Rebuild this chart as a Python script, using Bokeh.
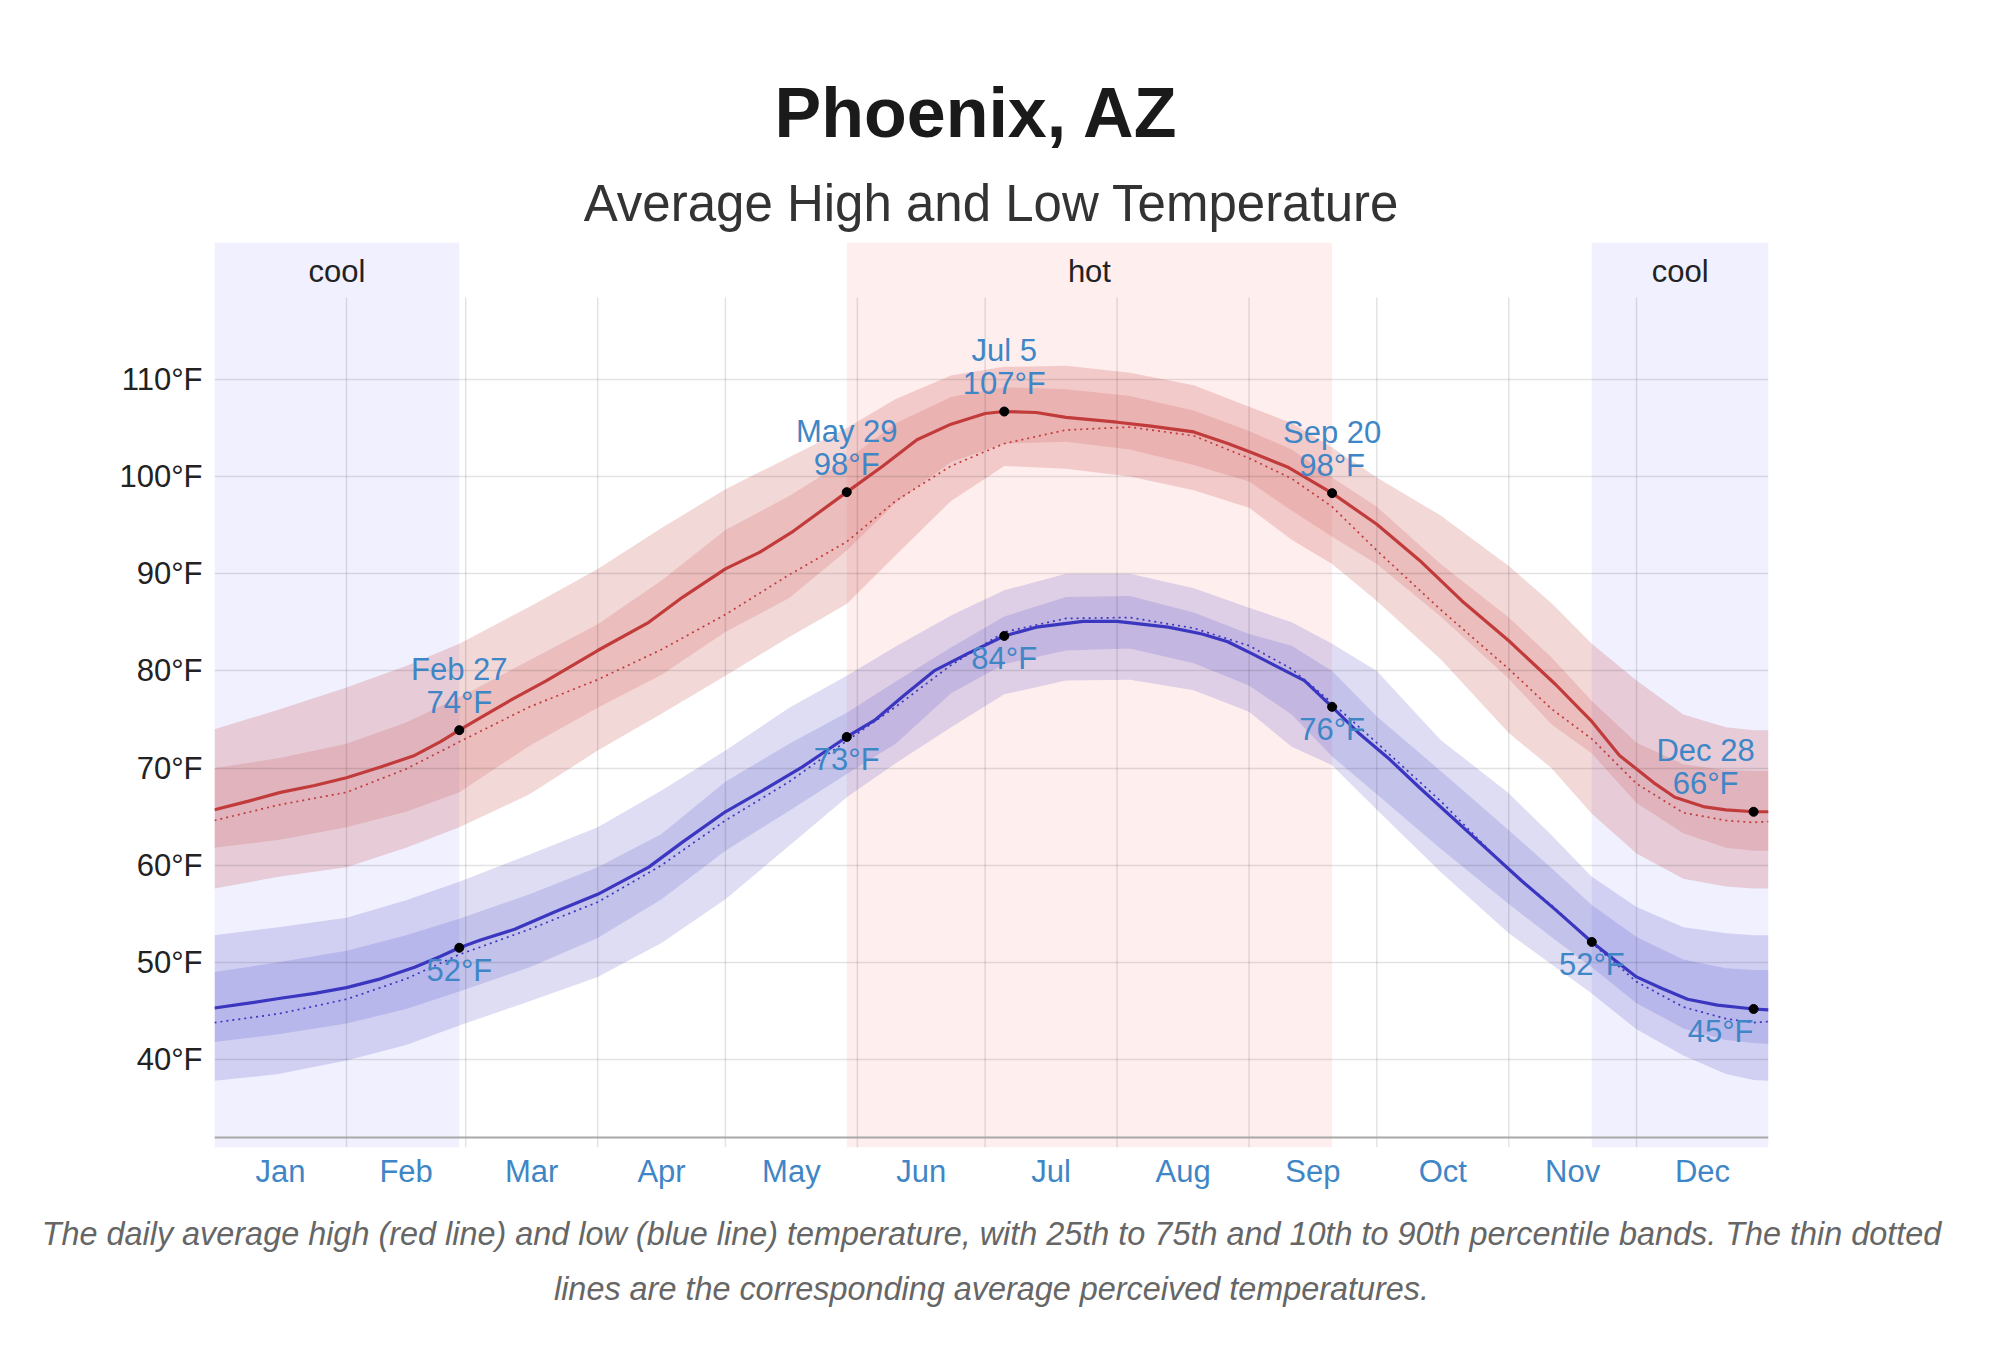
from bokeh.plotting import figure
from bokeh.models import FixedTicker, Span, Title, ColumnDataSource, Range1d
from bokeh.core.properties import value
from bokeh.embed import file_html
from bokeh.resources import INLINE

# ---------------- data ----------------
# daily average high / low lines (day of year, Jan 1 = 0)
high_days = [0, 8, 15.5, 23.5, 31, 39, 47, 53, 57.5, 62.5, 70, 78, 90, 102, 110, 120, 128, 136, 148.5, 157,
             165, 173, 181, 185.5, 193, 200, 212, 220, 230, 238, 244, 252, 262.5, 273, 283, 293, 304, 315, 321,
             323.5, 330, 338, 343, 350, 355, 361.5, 365]
high_avg = [65.7, 66.6, 67.5, 68.2, 69.0, 70.1, 71.3, 72.7, 73.9, 75.2, 77.1, 79.0, 82.1, 85.0, 87.6, 90.5,
            92.2, 94.4, 98.4, 101.1, 103.8, 105.4, 106.5, 106.7, 106.6, 106.1, 105.6, 105.2, 104.6, 103.4,
            102.4, 101.0, 98.3, 95.1, 91.4, 87.2, 83.1, 78.6, 75.9, 74.8, 71.3, 68.5, 67.0, 66.0, 65.7, 65.5, 65.5]
low_days = [0, 8, 15.5, 23.5, 31, 39, 47, 53, 57.5, 62.5, 70.5, 80, 90, 102, 110, 120, 130, 138, 148.5, 155,
            162, 169, 177, 185.5, 193, 204, 212, 224, 232, 238, 244, 256, 262.5, 269, 276, 283, 295, 307, 315,
            323.5, 329, 334, 340, 346, 353, 361.5, 365]
low_avg = [45.3, 45.8, 46.3, 46.8, 47.4, 48.3, 49.5, 50.6, 51.5, 52.3, 53.4, 55.2, 57.0, 59.8, 62.4, 65.5,
           68.0, 70.1, 73.2, 74.9, 77.5, 80.0, 81.8, 83.6, 84.5, 85.1, 85.1, 84.5, 83.8, 83.0, 81.7, 79.0, 76.3,
           73.5, 70.9, 68.0, 63.2, 58.4, 55.4, 52.1, 50.2, 48.5, 47.3, 46.2, 45.6, 45.2, 45.1]

# percentile bands and perceived temperatures
days = [0, 15, 31, 45, 57.5, 74, 90, 105, 120, 135, 148.5, 160, 173, 185.5, 200,
        215, 230, 243, 253, 262.5, 273, 288, 304, 314, 323.5, 334, 345, 355, 361.5, 365]
high_p90 = [74.0, 76.0, 78.3, 80.5, 82.8, 86.6, 90.5, 94.7, 98.7, 102.0, 105.0, 108.0, 110.4, 111.3, 111.4,
            110.7, 109.4, 107.2, 105.5, 103.0, 99.9, 96.0, 90.8, 87.0, 82.8, 79.0, 75.5, 74.2, 73.9, 73.9]
high_p75 = [70.0, 71.0, 72.5, 74.7, 77.3, 81.1, 84.8, 89.3, 94.5, 98.0, 101.7, 105.5, 108.2, 109.2, 109.0,
            108.3, 106.8, 104.7, 102.8, 99.9, 96.9, 91.0, 85.5, 81.4, 76.9, 72.6, 70.4, 69.8, 69.7, 69.7]
high_p25 = [61.8, 62.6, 63.9, 65.5, 67.5, 72.3, 76.2, 79.6, 84.0, 87.5, 92.4, 97.3, 101.5, 103.4, 103.6,
            102.8, 101.2, 99.5, 96.5, 93.8, 91.0, 85.6, 79.2, 74.5, 71.5, 66.4, 63.3, 61.8, 61.5, 61.5]
high_p10 = [57.6, 58.8, 59.8, 61.8, 63.9, 67.3, 71.8, 75.6, 79.5, 83.5, 86.9, 91.9, 97.5, 101.1, 100.8,
            100.0, 98.6, 96.8, 93.5, 91.0, 87.2, 81.2, 73.6, 70.0, 65.3, 61.2, 58.6, 57.8, 57.6, 57.6]
high_feel = [64.6, 66.2, 67.5, 69.9, 72.7, 76.3, 79.1, 82.2, 85.8, 89.9, 93.3, 97.5, 101.1, 103.4, 104.8,
             105.1, 104.2, 101.9, 99.8, 96.9, 92.4, 86.3, 80.2, 76.1, 73.0, 68.4, 65.4, 64.6, 64.4, 64.5]
low_p90 = [52.8, 53.6, 54.6, 56.4, 58.3, 61.1, 63.9, 67.7, 71.8, 76.2, 79.5, 82.5, 85.7, 88.3, 90.0,
           90.0, 88.5, 86.5, 85.0, 82.8, 80.0, 72.9, 67.4, 63.1, 58.8, 55.7, 53.6, 53.0, 52.8, 52.8]
low_p75 = [49.0, 50.0, 51.2, 52.8, 54.5, 57.0, 59.8, 63.2, 68.6, 72.5, 75.7, 78.9, 82.4, 85.6, 87.6,
           87.7, 86.0, 83.8, 82.6, 80.0, 75.3, 69.7, 63.6, 59.7, 55.9, 52.6, 50.3, 49.4, 49.2, 49.2]
low_p25 = [41.8, 42.6, 43.7, 45.2, 47.0, 49.5, 52.5, 56.5, 61.5, 65.6, 69.4, 72.5, 77.7, 80.7, 82.1,
           82.3, 80.8, 78.5, 75.5, 71.2, 67.3, 61.7, 56.0, 52.6, 49.5, 45.8, 43.2, 42.0, 41.7, 41.6]
low_p10 = [37.8, 38.5, 39.9, 41.5, 43.5, 46.0, 48.5, 52.0, 56.5, 62.0, 67.0, 70.5, 74.2, 77.6, 79.0,
           79.1, 78.0, 75.8, 72.2, 70.3, 65.7, 59.3, 53.0, 49.8, 46.8, 43.1, 40.4, 38.5, 37.9, 37.8]
low_feel = [43.8, 44.7, 46.2, 48.3, 50.8, 53.4, 56.2, 60.0, 64.6, 68.6, 72.8, 76.3, 80.6, 84.0, 85.4,
            85.5, 84.4, 82.6, 80.2, 76.7, 72.6, 66.6, 59.5, 55.9, 52.0, 48.0, 45.4, 44.2, 43.8, 43.9]

high_label_days = [57.5, 148.5, 185.5, 262.5, 361.5]
high_label_dates = ["Feb 27", "May 29", "Jul 5", "Sep 20", "Dec 28"]
high_label_temps = ["74°F", "98°F", "107°F", "98°F", "66°F"]
low_label_days = [57.5, 148.5, 185.5, 262.5, 323.5, 361.5]
low_label_temps = ["52°F", "73°F", "84°F", "76°F", "52°F", "45°F"]

season_names = ["cool", "hot", "cool"]
season_start = [0, 148.5, 323.5]
season_end = [57.5, 262.5, 365]
season_kind_colors = {"cool": "#f0f0fe", "hot": "#ffeeee"}

month_names = ["Jan", "Feb", "Mar", "Apr", "May", "Jun", "Jul", "Aug", "Sep", "Oct", "Nov", "Dec"]
month_mid = [15.5, 45, 74.5, 105, 135.5, 166, 196.5, 227.5, 258, 288.5, 319, 349.5]
month_bounds = [31, 59, 90, 120, 151, 181, 212, 243, 273, 304, 334]
y_ticks = [40, 50, 60, 70, 80, 90, 100, 110]

title_text = "Phoenix, AZ"
subtitle_text = "Average High and Low Temperature"
caption_lines = ["The daily average high (red line) and low (blue line) temperature, with 25th to 75th "
                 "and 10th to 90th percentile bands. The thin dotted",
                 "lines are the corresponding average perceived temperatures."]

# ---------------- styling ----------------
FONT = "Liberation Sans"
RED = "#c23b3b"
BLUE = "#3b36c0"
LABEL_BLUE = "#3f86c7"
Y0, Y1 = 30.94, 124.10
GRID_TOP = 118.44
AXIS_Y = 31.97

p = figure(width=1990, height=1362, x_range=Range1d(0, 365), y_range=Range1d(Y0, Y1),
           output_backend="svg", toolbar_location=None,
           min_border_left=214, min_border_right=222, min_border_top=242, min_border_bottom=215)
p.outline_line_color = None
p.background_fill_color = "white"
p.border_fill_color = "white"

# season shading
p.quad(left=season_start, right=season_end, bottom=Y0, top=Y1,
       fill_color=[season_kind_colors[s] for s in season_names], line_color=None, level="image")

# percentile bands
p.varea(x=days, y1=high_p10, y2=high_p90, fill_color=RED, fill_alpha=0.2, level="image")
p.varea(x=days, y1=high_p25, y2=high_p75, fill_color=RED, fill_alpha=0.17, level="image")
p.varea(x=days, y1=low_p10, y2=low_p90, fill_color=BLUE, fill_alpha=0.17, level="image")
p.varea(x=days, y1=low_p25, y2=low_p75, fill_color=BLUE, fill_alpha=0.16, level="image")

# grid
p.xgrid.visible = False
p.ygrid.ticker = FixedTicker(ticks=y_ticks)
p.ygrid.grid_line_color = "black"
p.ygrid.grid_line_alpha = 0.11
p.ygrid.grid_line_width = 1.5
p.ygrid.level = "underlay"
p.segment(x0=month_bounds, y0=[Y0] * len(month_bounds), x1=month_bounds, y1=[GRID_TOP] * len(month_bounds),
          line_color="black", line_alpha=0.11, line_width=1.5, level="underlay")
p.add_layout(Span(location=AXIS_Y, dimension="width", line_color="#a8a8a8", line_width=2))

# lines
p.line(high_days, high_avg, line_color=RED, line_width=3.2)
p.line(low_days, low_avg, line_color=BLUE, line_width=3.2)
p.line(days, high_feel, line_color=RED, line_width=1.7, line_dash="2 4")
p.line(days, low_feel, line_color=BLUE, line_width=1.7, line_dash="2 4")

# markers and labels
hy = [high_avg[high_days.index(d)] for d in high_label_days]
ly = [low_avg[low_days.index(d)] for d in low_label_days]
p.scatter(high_label_days, hy, size=9, color="black")
p.scatter(low_label_days, ly, size=9, color="black")

hsrc = ColumnDataSource(dict(x=high_label_days, y=hy, date=high_label_dates, temp=high_label_temps,
                             dx=[0, 0, 0, 0, -48]))
lsrc = ColumnDataSource(dict(x=low_label_days, y=ly, temp=low_label_temps, dx=[0, 0, 0, 0, 0, -33]))
common = dict(text_font=value(FONT), text_font_size="31px", text_color=LABEL_BLUE,
              text_align="center", text_baseline="alphabetic")
p.text(x="x", y="y", text="date", x_offset="dx", y_offset=-61, source=hsrc, **common)
p.text(x="x", y="y", text="temp", x_offset="dx", y_offset=-28, source=hsrc, **common)
p.text(x="x", y="y", text="temp", x_offset="dx", y_offset=23, source=lsrc, **common)

# season labels
ssrc = ColumnDataSource(dict(x=[(a + b) / 2 for a, b in zip(season_start, season_end)],
                             y=[121.1] * len(season_names), t=season_names))
p.text(x="x", y="y", text="t", source=ssrc, text_font=value(FONT), text_font_size="31px",
       text_color="#222222", text_align="center", text_baseline="alphabetic")

# axes
p.yaxis.ticker = FixedTicker(ticks=y_ticks)
p.yaxis.major_label_overrides = {t: f"{t}°F" for t in y_ticks}
p.yaxis.axis_line_color = None
p.yaxis.major_tick_line_color = None
p.yaxis.minor_tick_line_color = None
p.yaxis.major_tick_out = 0
p.yaxis.major_tick_in = 0
p.yaxis.major_label_standoff = 12
p.yaxis.major_label_text_font = FONT
p.yaxis.major_label_text_font_size = "31px"
p.yaxis.major_label_text_color = "#222222"

p.xaxis.ticker = FixedTicker(ticks=month_mid)
p.xaxis.major_label_overrides = {m: n for m, n in zip(month_mid, month_names)}
p.xaxis.axis_line_color = None
p.xaxis.major_tick_line_color = None
p.xaxis.minor_tick_line_color = None
p.xaxis.major_tick_out = 0
p.xaxis.major_tick_in = 0
p.xaxis.major_label_standoff = 6
p.xaxis.major_label_text_font = FONT
p.xaxis.major_label_text_font_size = "31px"
p.xaxis.major_label_text_color = LABEL_BLUE

# titles and caption (side panels)
p.add_layout(Title(text=subtitle_text, align="center", text_font=FONT, text_font_size="51px",
                   text_font_style="normal", text_color="#333333", standoff=22), "above")
p.add_layout(Title(text=title_text, align="left", offset=560, text_font=FONT, text_font_size="70px",
                   text_font_style="bold", text_color="#1a1a1a", standoff=20), "above")
p.add_layout(Title(text=caption_lines[0], align="center", text_font=FONT, text_font_size="32.4px",
                   text_font_style="italic", text_color="#666666", standoff=44), "below")
p.add_layout(Title(text=caption_lines[1], align="center", text_font=FONT, text_font_size="32.4px",
                   text_font_style="italic", text_color="#666666", standoff=-10), "below")

open("out.html", "w").write(file_html(p, INLINE))
